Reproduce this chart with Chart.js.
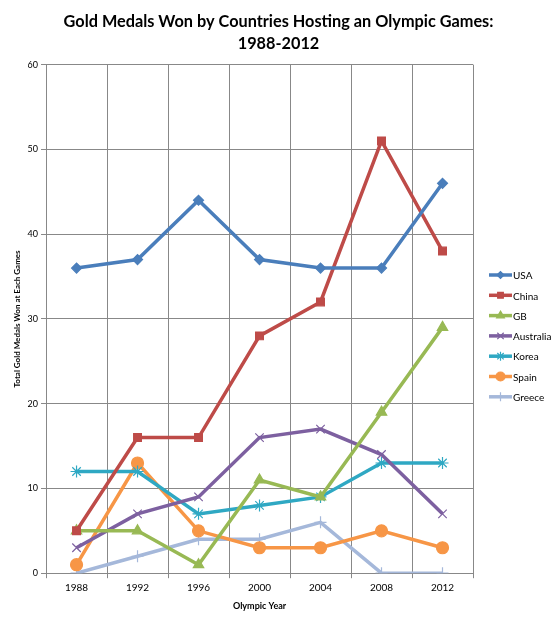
<!DOCTYPE html>
<html lang="en">
<head>
  <meta charset="UTF-8">
  <title>Gold Medals Won by Countries Hosting an Olympic Games</title>
  <script src="https://cdn.jsdelivr.net/npm/chart.js"></script>
  <style>
    html, body { margin: 0; padding: 0; background: #fff; }
    #wrap { width: 557px; height: 617px; }
  </style>
</head>
<body>
  <div id="wrap"><canvas id="medalChart" width="557" height="617"></canvas></div>

  <script>
    const years = ['1988', '1992', '1996', '2000', '2004', '2008', '2012'];

    const usa       = [36, 37, 44, 37, 36, 36, 46];
    const china     = [5, 16, 16, 28, 32, 51, 38];
    const gb        = [5, 5, 1, 11, 9, 19, 29];
    const australia = [3, 7, 9, 16, 17, 14, 7];
    const korea     = [12, 12, 7, 8, 9, 13, 13];
    const spain     = [1, 13, 5, 3, 3, 5, 3];
    const greece    = [0, 2, 4, 4, 6, 0, 0];

    const font = "Lato, 'Open Sans', sans-serif";

    function series(label, data, color, style, radius) {
      return {
        label, data,
        borderColor: color, backgroundColor: color,
        pointBackgroundColor: color, pointBorderColor: color,
        borderWidth: 3.5, pointStyle: style, pointRadius: radius,
        pointBorderWidth: 1.2, fill: false, tension: 0
      };
    }

    // legend with line + marker, like the spreadsheet one
    const lineLegend = {
      id: 'lineLegend',
      afterLayout(chart) {
        // centre the title over the whole canvas, not just the padded area
        const t = chart.titleBlock;
        t.left = 0; t.right = chart.width; t.width = chart.width;
      },
      afterDraw(chart) {
        const ctx = chart.ctx;
        const x0 = 489, y0 = 275, step = 20.3;
        ctx.save();
        chart.data.datasets.forEach((ds, i) => {
          const y = y0 + i * step;
          ctx.strokeStyle = ds.borderColor;
          ctx.lineWidth = 3.5;
          ctx.beginPath();
          ctx.moveTo(x0, y);
          ctx.lineTo(x0 + 23, y);
          ctx.stroke();
          ctx.fillStyle = ds.borderColor;
          ctx.lineWidth = 1.2;
          Chart.helpers.drawPoint(ctx, { pointStyle: ds.pointStyle, radius: ds.pointRadius - 1.5, borderWidth: 1.2 }, x0 + 11.5, y);
          ctx.fillStyle = '#000';
          ctx.font = '10px ' + font;
          ctx.textBaseline = 'middle';
          ctx.fillText(ds.label, x0 + 24, y + 1);
        });
        ctx.restore();
      }
    };

    new Chart(document.getElementById('medalChart').getContext('2d'), {
      type: 'line',
      data: {
        labels: years,
        datasets: [
          series('USA', usa, '#4A7EBB', 'rectRot', 5),
          series('China', china, '#BE4B48', 'rect', 5.5),
          series('GB', gb, '#98B954', 'triangle', 6),
          series('Australia', australia, '#7D60A0', 'crossRot', 6),
          series('Korea', korea, '#2FA8C3', 'star', 6),
          series('Spain', spain, '#F79646', 'circle', 6),
          series('Greece', greece, '#A5B8DA', 'cross', 6)
        ]
      },
      options: {
        responsive: false,
        animation: false,
        layout: { padding: { left: 9, right: 84, top: 4, bottom: 2 } },
        scales: {
          x: {
            offset: true,
            grid: { offset: true, color: '#888', tickLength: 5, drawTicks: true },
            border: { color: '#888' },
            ticks: { color: '#000', font: { family: font, size: 10 }, padding: 4 },
            title: { display: true, text: 'Olympic Year', color: '#000', font: { family: font, size: 9, weight: 'bold' }, padding: { top: 2 } }
          },
          y: {
            min: 0, max: 60,
            grid: { color: '#888', tickLength: 5 },
            border: { color: '#888' },
            ticks: { stepSize: 10, color: '#000', font: { family: font, size: 9 }, padding: 3 },
            title: { display: true, text: 'Total Gold Medals Won at Each Games', color: '#000', font: { family: font, size: 8, weight: 'bold' }, padding: { bottom: 2 } }
          }
        },
        plugins: {
          legend: { display: false },
          tooltip: { enabled: false },
          title: {
            display: true,
            text: ['Gold Medals Won by Countries Hosting an Olympic Games:', '1988-2012'],
            color: '#000',
            font: { family: font, size: 16.3, weight: 'bold', lineHeight: 1.4 },
            padding: { top: 6, bottom: 9 }
          }
        }
      },
      plugins: [lineLegend]
    });
  </script>
</body>
</html>
